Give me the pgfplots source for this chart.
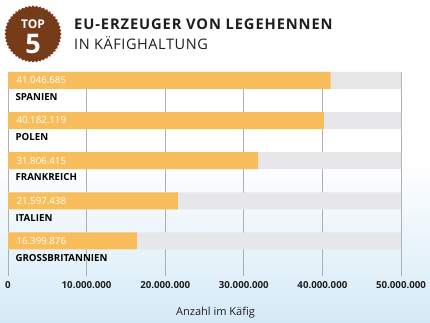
\documentclass[border=0pt]{standalone}
\usepackage{pgfplots}
\pgfplotsset{compat=1.18}
\usepackage{fontspec}
\setmainfont{Open Sans}
\usetikzlibrary{shapes.geometric}
\definecolor{barorange}{RGB}{249,190,92}
\definecolor{bargray}{RGB}{231,231,234}
\definecolor{badge}{RGB}{118,60,26}
\definecolor{lightblue}{RGB}{212,234,247}
\definecolor{gridgray}{RGB}{175,175,175}
\definecolor{txt}{RGB}{30,30,30}
\newcommand\lblfont{\fontsize{9.7}{10}\selectfont}
\begin{document}
\begin{tikzpicture}
\useasboundingbox (0pt,0pt) rectangle (430pt,-323pt);
\shade[top color=white, bottom color=lightblue, middle color=white] (0pt,0pt) rectangle (430pt,-323pt);
% badge
\node[star, star points=48, star point ratio=1.06, fill=badge, minimum size=57pt, inner sep=0pt] at (33pt,-34pt) {};
\node[text=white, font=\fontsize{12}{12}\selectfont\bfseries] at (33pt,-24pt) {TOP};
\node[text=white, font=\fontsize{27}{27}\selectfont\bfseries] at (33pt,-44pt) {5};
% title
\node[anchor=base west, inner sep=0pt, text=txt, font=\fontsize{14.7}{14}\selectfont\bfseries\addfontfeature{LetterSpace=6}] at (74pt,-30pt) {EU-ERZEUGER VON LEGEHENNEN};
\node[anchor=base west, inner sep=0pt, text=txt, font=\fontsize{14.5}{14}\selectfont\addfontfeature{LetterSpace=4}] at (74pt,-50pt) {IN KÄFIGHALTUNG};
\begin{axis}[
  at={(8pt,-276pt)}, anchor=south west,
  scale only axis, width=393pt, height=204pt,
  xmin=0, xmax=50000000, ymin=0.125, ymax=5.21,
  xbar, bar width=17pt, bar shift=0pt,
  axis line style={draw=none},
  scaled x ticks=false,
  xtick={0,10000000,20000000,30000000,40000000,50000000},
  xticklabels={0,10.000.000,20.000.000,30.000.000,40.000.000,50.000.000},
  ytick=\empty,
  xmajorgrids, grid style={gridgray, line width=0.8pt},
  major tick length=0pt,
  xtick style={draw=none},
  tick label style={font=\lblfont\bfseries, text=txt},
  xticklabel style={yshift=-2pt},
  xlabel={Anzahl im Käfig},
  xlabel style={font=\fontsize{11}{11}\selectfont, text=txt, yshift=-12pt, xshift=11pt},
  clip=false,
]
\addplot[fill=bargray, draw=none] coordinates {(50000000,5) (50000000,4) (50000000,3) (50000000,2) (50000000,1)};
\addplot[fill=barorange, draw=none] coordinates {(41046685,5) (40182119,4) (31806415,3) (21597438,2) (16399876,1)};
\node[anchor=west, text=white, font=\lblfont] at (axis cs:0,5) {\hspace{5pt}41.046.685};
\node[anchor=west, text=white, font=\lblfont] at (axis cs:0,4) {\hspace{5pt}40.182.119};
\node[anchor=west, text=white, font=\lblfont] at (axis cs:0,3) {\hspace{5pt}31.806.415};
\node[anchor=west, text=white, font=\lblfont] at (axis cs:0,2) {\hspace{5pt}21.597.438};
\node[anchor=west, text=white, font=\lblfont] at (axis cs:0,1) {\hspace{5pt}16.399.876};
\node[anchor=west, xshift=4pt, text=black, font=\lblfont\bfseries] at (axis cs:0,4.58) {SPANIEN};
\node[anchor=west, xshift=4pt, text=black, font=\lblfont\bfseries] at (axis cs:0,3.58) {POLEN};
\node[anchor=west, xshift=4pt, text=black, font=\lblfont\bfseries] at (axis cs:0,2.58) {FRANKREICH};
\node[anchor=west, xshift=4pt, text=black, font=\lblfont\bfseries] at (axis cs:0,1.58) {ITALIEN};
\node[anchor=west, xshift=4pt, text=black, font=\lblfont\bfseries] at (axis cs:0,0.58) {GROSSBRITANNIEN};
\end{axis}
\end{tikzpicture}
\end{document}
